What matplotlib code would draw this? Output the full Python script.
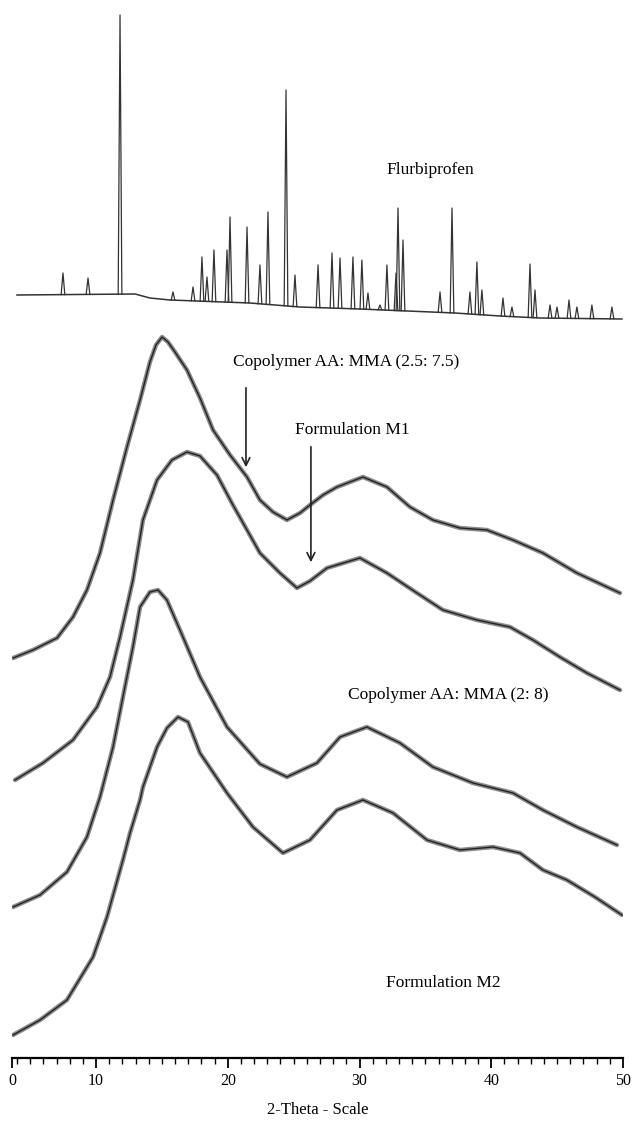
import numpy as np
import matplotlib
matplotlib.use('Agg')
import matplotlib.pyplot as plt
from matplotlib.ticker import FixedLocator


# 2-theta (deg) / intensity (a.u., stacked offsets included)

# Flurbiprofen: baseline and crystalline reflections
flu_base_x = [4.00, 12.96, 14.09, 15.61, 21.68, 25.48, 30.03, 37.24, 40.66, 43.70, 49.92]
flu_base_y = [763, 764, 760, 758, 755, 751, 749, 745, 742, 740, 739]
flu_peak_x = [7.49, 9.39, 11.82, 15.84, 17.36, 18.04, 18.42, 18.95, 19.94, 20.17,
              21.46, 22.44, 23.05, 24.42, 25.10, 26.85, 27.91, 28.52, 29.50, 30.18,
              30.64, 31.55, 32.08, 32.77, 32.92, 33.30, 36.11, 37.02, 38.38, 38.91,
              39.29, 40.89, 41.57, 42.94, 43.32, 44.46, 44.99, 45.90, 46.50, 47.64,
              49.16]
flu_peak_y = [785, 780, 1043, 766, 771, 801, 781, 808, 808, 841,
              831, 793, 846, 968, 783, 793, 805, 800, 801, 798,
              765, 753, 793, 785, 850, 818, 766, 850, 766, 796,
              768, 760, 751, 794, 768, 753, 751, 758, 751, 753,
              751]

# Copolymer AA: MMA (2.5: 7.5)
cop1_x = [3.70, 5.21, 7.04, 8.25, 9.31, 10.30, 11.29, 12.35, 13.34, 14.09, 14.55,
          15.01, 15.46, 15.99, 16.90, 17.89, 18.88, 20.17, 21.46, 22.44, 23.43,
          24.49, 25.48, 26.24, 27.23, 28.29, 30.26, 32.08, 33.83, 35.57, 37.62,
          39.67, 41.65, 43.92, 46.50, 49.77]
cop1_y = [400, 408, 420, 441, 468, 505, 558, 611, 658, 696, 713,
          721, 716, 706, 688, 660, 628, 603, 581, 558, 546,
          538, 545, 553, 563, 571, 581, 571, 551, 538, 530,
          528, 518, 505, 485, 465]

# Formulation M1
m1_x = [3.85, 5.97, 8.25, 10.07, 11.06, 11.82, 12.80, 13.56, 14.63, 15.76, 16.90,
        17.89, 19.18, 20.39, 21.46, 22.44, 23.96, 25.25, 26.24, 27.53, 30.03,
        32.08, 34.36, 36.33, 38.91, 41.42, 43.17, 45.21, 47.26, 49.77]
m1_y = [278, 295, 318, 351, 381, 421, 478, 538, 578, 598, 606,
        602, 583, 553, 528, 505, 485, 470, 477, 490, 500,
        485, 465, 448, 438, 431, 418, 401, 385, 368]

# Copolymer AA: MMA (2: 8)
cop2_x = [3.70, 5.75, 7.79, 9.31, 10.30, 11.29, 12.04, 12.80, 13.34, 14.09, 14.70,
          15.38, 16.37, 17.89, 19.94, 22.44, 24.49, 26.77, 28.52, 30.56, 33.07,
          35.57, 38.61, 41.65, 43.92, 46.50, 49.54]
cop2_y = [151, 163, 186, 221, 261, 311, 361, 411, 451, 466, 468,
          458, 428, 381, 331, 294, 281, 295, 321, 331, 315,
          291, 275, 265, 248, 231, 213]

# Formulation M2
m2_x = [3.70, 5.75, 7.79, 9.77, 10.83, 12.04, 12.58, 13.34, 13.56, 14.63, 15.38,
        16.22, 16.98, 17.89, 19.94, 21.91, 24.19, 26.24, 28.29, 30.26, 32.54,
        35.12, 37.62, 40.13, 42.18, 43.92, 45.74, 47.87, 49.92]
m2_y = [23, 38, 58, 101, 141, 198, 225, 258, 271, 311, 330,
        341, 336, 305, 265, 231, 205, 218, 248, 258, 245,
        218, 208, 211, 205, 188, 178, 161, 143]

# axis: the first label "0" sits at the left end of the scan
x_start = 3.62
major_pos = [x_start, 10, 20, 30, 40, 50]
major_lab = ['0', '10', '20', '30', '40', '50']

serif = ['Liberation Serif', 'DejaVu Serif']

fig = plt.figure(figsize=(6.32, 11.22), dpi=100)
ax = fig.add_axes([12 / 632, 64 / 1122, 611 / 632, 1058 / 1122])
ax.set_xlim(x_start, 50)
ax.set_ylim(0, 1058)

# crystalline drug pattern
ax.plot(flu_base_x, flu_base_y, color='#333333', lw=1.1)
w = 0.14
for px, py in zip(flu_peak_x, flu_peak_y):
    b = np.interp(px, flu_base_x, flu_base_y)
    ax.plot([px - w, px, px + w], [b, py, b], color='#333333', lw=0.9)

# amorphous halos
for xs, ys in [(cop1_x, cop1_y), (m1_x, m1_y), (cop2_x, cop2_y), (m2_x, m2_y)]:
    ax.plot(xs, ys, color='#8a8a8a', lw=3.2, solid_joinstyle='round',
            solid_capstyle='round')
    ax.plot(xs, ys, color='#222222', lw=1.0, solid_joinstyle='round')

# labels and arrows
txt = dict(family=serif, fontsize=12.5, va='center')
ax.text(32.08, 888, 'Flurbiprofen', **txt)
ax.text(20.39, 696, 'Copolymer AA: MMA (2.5: 7.5)', **txt)
ax.text(25.10, 628, 'Formulation M1', **txt)
ax.text(29.12, 363, 'Copolymer AA: MMA (2: 8)', **txt)
ax.text(32.01, 75, 'Formulation M2', **txt)

ax.annotate('', xy=(21.38, 588), xytext=(21.38, 673),
            arrowprops=dict(arrowstyle='->', lw=1.2, color='#222222', mutation_scale=14))
ax.annotate('', xy=(26.31, 493), xytext=(26.31, 614),
            arrowprops=dict(arrowstyle='->', lw=1.2, color='#222222', mutation_scale=14))

# only the bottom scale is drawn
for s in ['top', 'left', 'right']:
    ax.spines[s].set_visible(False)
ax.spines['bottom'].set_linewidth(1.6)
ax.set_yticks([])
ax.xaxis.set_major_locator(FixedLocator(major_pos))
ax.set_xticklabels(major_lab, family=serif, fontsize=11.5)
ax.xaxis.set_minor_locator(FixedLocator(list(range(4, 50))))
ax.tick_params(axis='x', which='major', length=7, width=1.3, direction='out', pad=4)
ax.tick_params(axis='x', which='minor', length=4, width=1.0, direction='out')
ax.set_xlabel('2-Theta - Scale', family=serif, fontsize=12, labelpad=9)

fig.savefig('out.png', dpi=100)
